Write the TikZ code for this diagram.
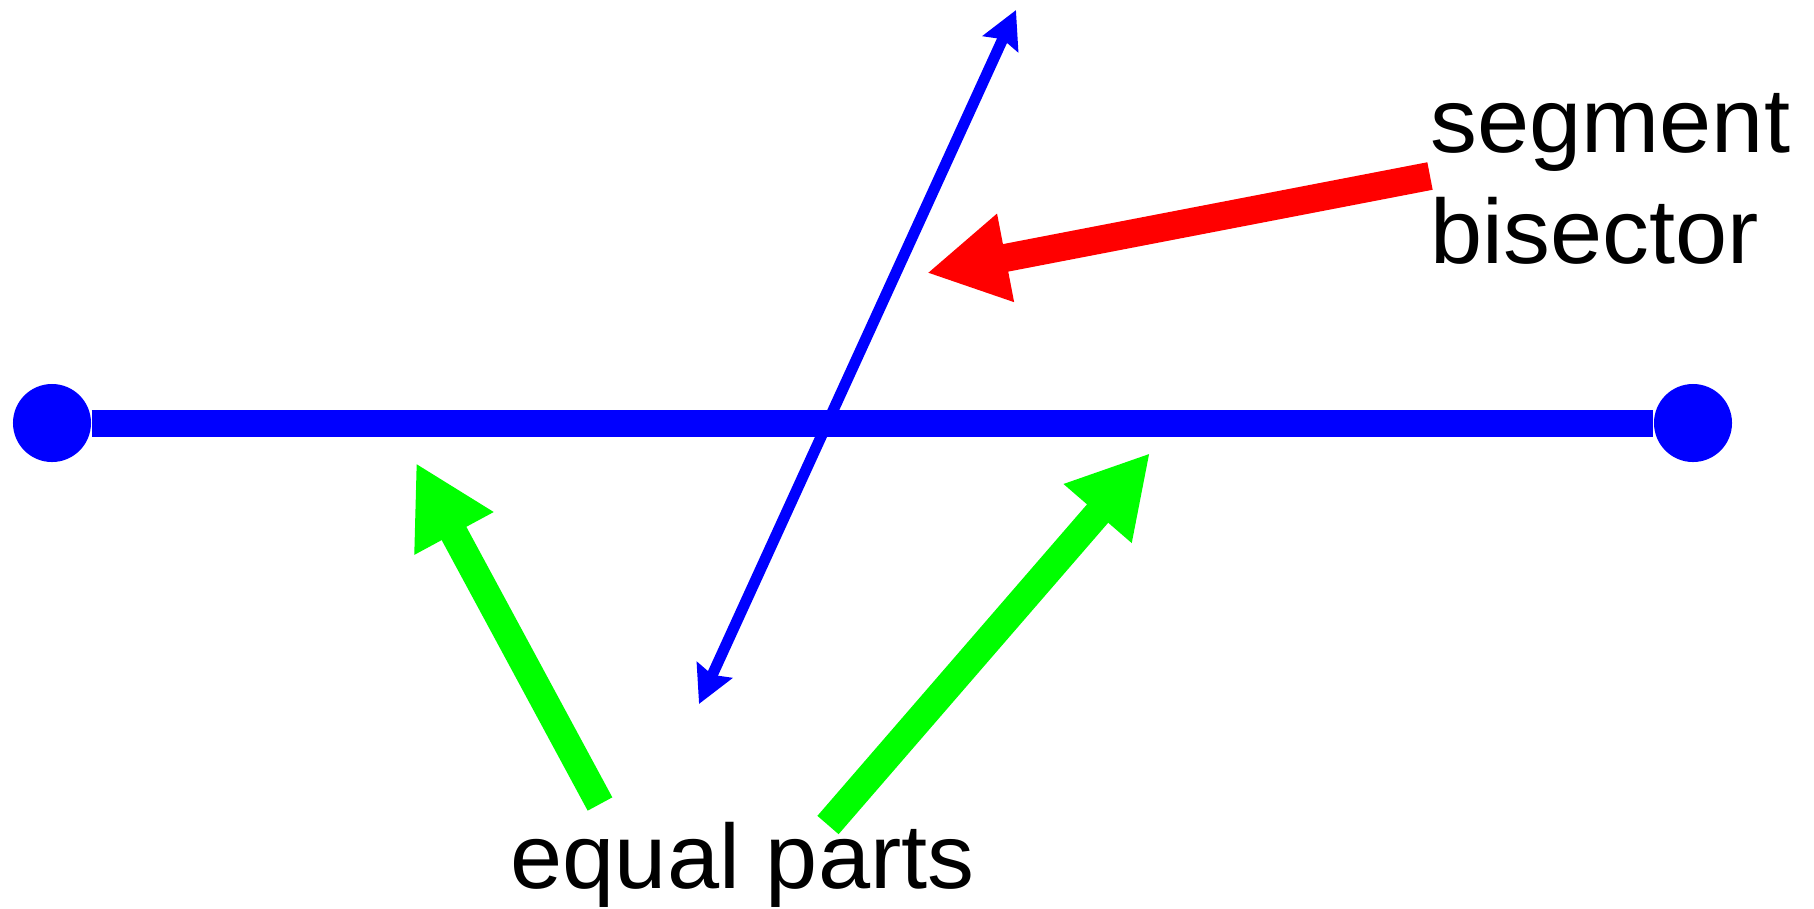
\documentclass[tikz,border=0pt]{standalone}
\usepackage{fontspec}
\setmainfont[FakeStretch=1.025]{Liberation Sans}
\usepackage{xcolor}
\usepackage{tikz}
\usetikzlibrary{arrows.meta}
\definecolor{eqgreen}{RGB}{0,255,0}
\tikzset{
  dot/.style={circle,fill=blue,inner sep=0pt,minimum size=0.78cm},
  seg/.style={blue,line width=0.27cm},
  bis/.style={blue,line width=0.11cm,{Stealth[length=0.37cm,width=0.38cm,inset=0.05cm]}-{Stealth[length=0.37cm,width=0.38cm,inset=0.05cm]}},
  pnt/.style={line width=0.28cm,-{Triangle[length=0.8cm,width=0.84cm]}},
  lbl/.style={font=\fontsize{26}{31.3}\selectfont,inner sep=0pt,align=left},
}

\begin{document}
\begin{tikzpicture}[x=0.01cm,y=-0.01cm]
  \useasboundingbox (0,0) rectangle (1814,908);
  % segment and end points
  \node[dot] (a) at (52,423) {};
  \node[dot] (b) at (1693,423) {};
  \draw[seg] (a) -- (b);
  % bisector line
  \coordinate (bt) at (1016,10);
  \coordinate (bb) at (699,704);
  \draw[bis] (bb) -- (bt);
  % labels
  \node[lbl,anchor=base west] (sb) at (1430,263) {segment\\bisector};
  \node[lbl,anchor=base west] (ep) at (510,888) {equal parts};
  % pointers
  \coordinate (r0) at (1430,176);
  \coordinate (r1) at (927,273);
  \coordinate (g0) at (600,804);
  \coordinate (g1) at (416,463);
  \coordinate (h0) at (828,825);
  \coordinate (h1) at (1150,453);
  \draw[pnt,red] (r0) -- (r1);
  \draw[pnt,eqgreen] (g0) -- (g1);
  \draw[pnt,eqgreen] (h0) -- (h1);
\end{tikzpicture}
\end{document}
